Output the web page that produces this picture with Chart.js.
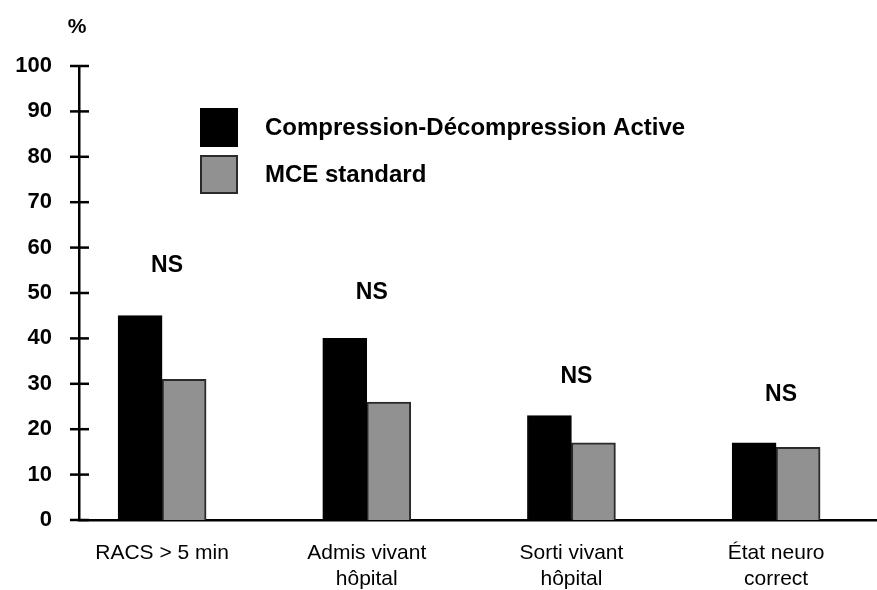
<!DOCTYPE html>
<html>
<head>
<meta charset="utf-8">
<script src="https://cdn.jsdelivr.net/npm/chart.js@4"></script>
<style>
  html, body { margin: 0; padding: 0; background: #fff; }
  #wrap { width: 877px; height: 590px; }
</style>
</head>
<body>
<div id="wrap"><canvas id="chart"></canvas></div>
<script>
// values
const categories = [['RACS > 5 min'], ['Admis vivant', 'hôpital'], ['Sorti vivant', 'hôpital'], ['État neuro', 'correct']];
const seriesNames = ['Compression-Décompression Active', 'MCE standard'];
const activeValues = [45, 40, 23, 17];
const standardValues = [31, 26, 17, 16];
const nsLevels = [56, 50, 31.5, 27.5];   // height of the "NS" marks, in %
const yTicks = [0, 10, 20, 30, 40, 50, 60, 70, 80, 90, 100];

Chart.defaults.font.family = '"Liberation Sans", Arial, sans-serif';
Chart.defaults.color = '#000';

const FONT = '"Liberation Sans", Arial, sans-serif';

// tick marks across the axis, "%" unit, NS marks and the legend
const extras = {
    id: 'extras',
    afterDraw(chart) {
        const ctx = chart.ctx;
        const xs = chart.scales.x, ys = chart.scales.y;
        const left = chart.chartArea.left, top = chart.chartArea.top;
        ctx.save();

        ctx.strokeStyle = '#000';
        ctx.lineWidth = 2.5;
        ys.ticks.forEach(t => {
            const py = ys.getPixelForValue(t.value);
            ctx.beginPath();
            ctx.moveTo(left - 9, py);
            ctx.lineTo(left + 10, py);
            ctx.stroke();
        });

        ctx.fillStyle = '#000';
        ctx.textAlign = 'center';
        ctx.textBaseline = 'middle';
        ctx.font = 'bold 21px ' + FONT;
        ctx.fillText('%', left - 2, top - 39);

        ctx.font = 'bold 23px ' + FONT;
        nsLevels.forEach((v, i) => {
            ctx.fillText('NS', xs.getPixelForValue(i) + 5, ys.getPixelForValue(v));
        });

        // legend
        ctx.textAlign = 'left';
        ctx.font = 'bold 24px ' + FONT;
        chart.data.datasets.forEach((ds, i) => {
            const bx = left + 121, by = top + 42 + i * 47;
            ctx.fillStyle = ds.backgroundColor;
            ctx.fillRect(bx, by, 38, 39);
            ctx.lineWidth = ds.borderWidth;
            ctx.strokeStyle = ds.borderColor;
            ctx.strokeRect(bx + ds.borderWidth / 2, by + ds.borderWidth / 2, 38 - ds.borderWidth, 39 - ds.borderWidth);
            ctx.fillStyle = '#000';
            ctx.fillText(ds.label, bx + 65, by + 20);
        });
        ctx.restore();
    }
};

const ctx = document.getElementById('chart').getContext('2d');
new Chart(ctx, {
    type: 'bar',
    data: {
        datasets: [{
            label: seriesNames[0],
            data: activeValues.map((v, i) => ({ x: i, y: v })),
            backgroundColor: '#000000',
            borderColor: '#000000',
            borderWidth: 1
        }, {
            label: seriesNames[1],
            data: standardValues.map((v, i) => ({ x: i, y: v })),
            backgroundColor: '#919191',
            borderColor: '#2a2a2a',
            borderWidth: 2
        }]
    },
    options: {
        responsive: true,
        maintainAspectRatio: false,
        animation: false,
        layout: { padding: { top: 66, left: 0, right: 0, bottom: 0 } },
        datasets: { bar: { barThickness: 44 } },
        plugins: {
            legend: { display: false },
            tooltip: { enabled: false }
        },
        scales: {
            x: {
                type: 'linear',
                min: -0.406,
                max: 3.493,
                offset: false,
                z: 1,
                grid: { display: false, drawTicks: false, offset: false },
                border: { display: true, color: '#000', width: 2.5 },
                afterBuildTicks: scale => { scale.ticks = categories.map((c, i) => ({ value: i })); },
                afterFit: scale => { scale.height = 70; },
                ticks: {
                    padding: 21,
                    maxRotation: 0,
                    autoSkip: false,
                    font: { size: 21 },
                    callback: v => categories[v]
                }
            },
            y: {
                min: 0,
                max: 100,
                z: 1,
                grid: { display: false, drawTicks: false },
                border: { display: true, color: '#000', width: 2.5 },
                afterBuildTicks: scale => { scale.ticks = yTicks.map(v => ({ value: v })); },
                afterFit: scale => { scale.width = 79; },
                ticks: {
                    padding: 27,
                    font: { size: 22, weight: 'bold' }
                }
            }
        }
    },
    plugins: [extras]
});
</script>
</body>
</html>
